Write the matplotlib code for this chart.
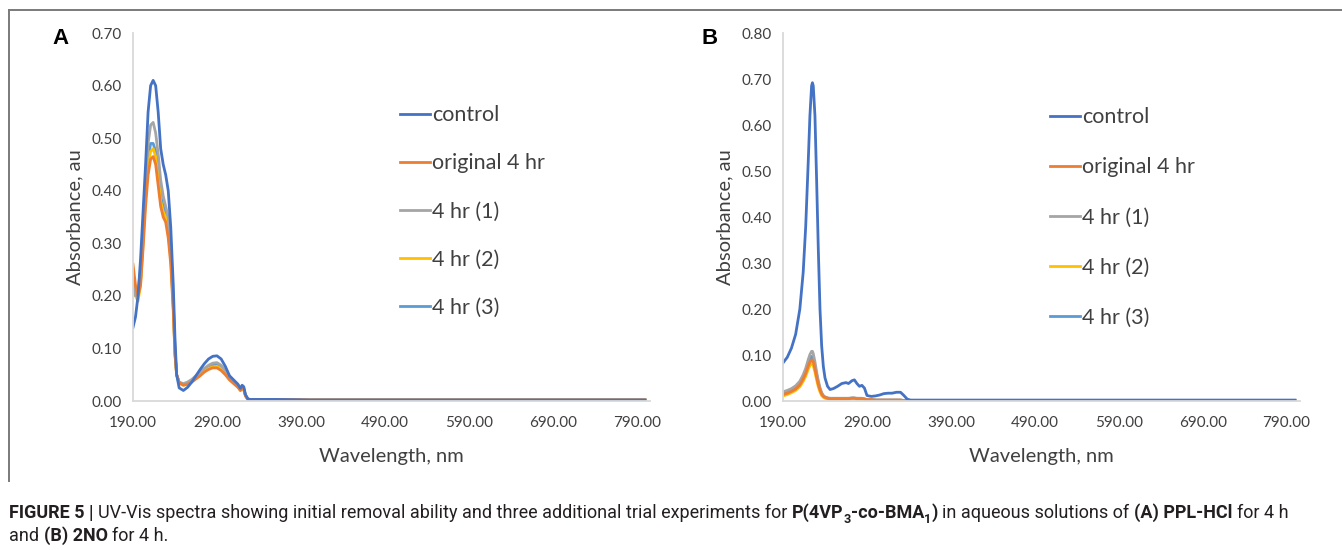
import matplotlib.pyplot as plt
from matplotlib.lines import Line2D

# ---- panel A data (wavelength, nm / absorbance, au) ----
wl_a = [190, 193, 196, 199, 202, 205, 208, 211, 214, 217, 220, 223, 226, 229, 232, 235, 238, 240,
        242, 245, 250, 255, 260, 265, 270, 275, 280, 285, 290, 295, 300, 305, 310, 315, 318, 320,
        322, 324, 327, 330, 340, 360, 400, 500, 600, 700, 800]
a_control = [0.14, 0.16, 0.20, 0.27, 0.36, 0.45, 0.55, 0.60, 0.61, 0.60, 0.55, 0.48, 0.45, 0.43, 0.40,
             0.33, 0.22, 0.12, 0.05, 0.025, 0.020, 0.026, 0.036, 0.048, 0.060, 0.071, 0.080, 0.085,
             0.086, 0.080, 0.066, 0.048, 0.040, 0.032, 0.024, 0.030, 0.027, 0.012, 0.004, 0.003,
             0.003, 0.003, 0.002, 0.002, 0.002, 0.002, 0.002]
a_orig = [0.26, 0.22, 0.20, 0.22, 0.29, 0.37, 0.43, 0.46, 0.465, 0.45, 0.41, 0.37, 0.35, 0.34, 0.31,
          0.26, 0.17, 0.09, 0.05, 0.035, 0.030, 0.032, 0.036, 0.042, 0.048, 0.055, 0.060, 0.063,
          0.063, 0.058, 0.050, 0.040, 0.033, 0.026, 0.020, 0.024, 0.022, 0.010, 0.003, 0.003,
          0.003, 0.003, 0.002, 0.002, 0.002, 0.002, 0.002]
a_run1 = [0.22, 0.20, 0.21, 0.25, 0.33, 0.42, 0.49, 0.525, 0.53, 0.51, 0.47, 0.42, 0.39, 0.37, 0.35,
          0.29, 0.19, 0.10, 0.05, 0.036, 0.033, 0.036, 0.041, 0.048, 0.055, 0.062, 0.068, 0.072,
          0.073, 0.068, 0.058, 0.047, 0.038, 0.030, 0.022, 0.026, 0.024, 0.011, 0.003, 0.003,
          0.003, 0.003, 0.002, 0.002, 0.002, 0.002, 0.002]
a_run2 = [0.22, 0.20, 0.19, 0.22, 0.30, 0.39, 0.45, 0.475, 0.48, 0.465, 0.43, 0.38, 0.36, 0.35, 0.32,
          0.27, 0.18, 0.09, 0.05, 0.034, 0.030, 0.032, 0.037, 0.043, 0.050, 0.057, 0.062, 0.065,
          0.066, 0.061, 0.052, 0.042, 0.034, 0.027, 0.020, 0.024, 0.022, 0.010, 0.003, 0.003,
          0.003, 0.003, 0.002, 0.002, 0.002, 0.002, 0.002]
a_run3 = [0.24, 0.21, 0.20, 0.23, 0.31, 0.40, 0.46, 0.49, 0.49, 0.475, 0.44, 0.39, 0.37, 0.36, 0.33,
          0.28, 0.18, 0.09, 0.05, 0.035, 0.031, 0.034, 0.039, 0.045, 0.052, 0.059, 0.064, 0.068,
          0.069, 0.064, 0.054, 0.044, 0.036, 0.028, 0.021, 0.025, 0.023, 0.010, 0.002, 0.002,
          0.002, 0.002, 0.001, 0.001, 0.001, 0.001, 0.001]

# ---- panel B data ----
wl_b = [190, 195, 200, 205, 210, 214, 217, 220, 222, 224, 225, 226, 228, 230, 232, 234, 236, 238,
        240, 243, 246, 250, 255, 260, 265, 268, 272, 275, 278, 281, 284, 287, 290, 295, 300, 305,
        310, 315, 320, 325, 330, 334, 338, 342, 400, 500, 600, 700, 800]
b_control = [0.083, 0.095, 0.115, 0.145, 0.20, 0.28, 0.38, 0.52, 0.62, 0.685, 0.692, 0.685, 0.62,
             0.48, 0.33, 0.20, 0.12, 0.075, 0.050, 0.032, 0.025, 0.027, 0.032, 0.038, 0.040, 0.038,
             0.044, 0.046, 0.038, 0.032, 0.034, 0.028, 0.012, 0.010, 0.011, 0.013, 0.016, 0.017,
             0.017, 0.019, 0.019, 0.012, 0.004, 0.002, 0.002, 0.002, 0.002, 0.002, 0.002]
b_orig = [0.014, 0.017, 0.021, 0.026, 0.035, 0.048, 0.060, 0.076, 0.085, 0.090, 0.089, 0.085, 0.070,
          0.052, 0.036, 0.024, 0.015, 0.010, 0.008, 0.006, 0.005, 0.005, 0.005, 0.005, 0.005, 0.005,
          0.006, 0.006, 0.005, 0.005, 0.005, 0.004, 0.003, 0.003, 0.002, 0.002, 0.002, 0.002,
          0.002, 0.002, 0.002, 0.001, 0.001, 0.001, 0.001, 0.001, 0.001, 0.001, 0.001]
b_run1 = [0.020, 0.023, 0.027, 0.033, 0.043, 0.057, 0.071, 0.090, 0.101, 0.108, 0.108, 0.103, 0.085,
          0.063, 0.044, 0.029, 0.018, 0.012, 0.009, 0.007, 0.006, 0.006, 0.006, 0.006, 0.006, 0.006,
          0.007, 0.007, 0.006, 0.006, 0.006, 0.005, 0.003, 0.003, 0.002, 0.002, 0.002, 0.002,
          0.002, 0.002, 0.002, 0.001, 0.001, 0.001, 0.001, 0.001, 0.001, 0.001, 0.001]
b_run2 = [0.011, 0.014, 0.018, 0.023, 0.031, 0.043, 0.054, 0.069, 0.077, 0.082, 0.081, 0.077, 0.063,
          0.046, 0.031, 0.020, 0.012, 0.008, 0.006, 0.004, 0.004, 0.004, 0.004, 0.004, 0.004, 0.004,
          0.005, 0.005, 0.004, 0.004, 0.004, 0.003, 0.002, 0.002, 0.001, 0.001, 0.001, 0.001,
          0.001, 0.001, 0.001, 0.001, 0.001, 0.001, 0.001, 0.001, 0.001, 0.001, 0.001]
b_run3 = [0.016, 0.019, 0.023, 0.029, 0.039, 0.052, 0.065, 0.083, 0.092, 0.097, 0.096, 0.092, 0.076,
          0.057, 0.040, 0.026, 0.016, 0.011, 0.008, 0.006, 0.005, 0.005, 0.005, 0.005, 0.005, 0.005,
          0.006, 0.006, 0.005, 0.005, 0.005, 0.004, 0.003, 0.003, 0.002, 0.002, 0.002, 0.002,
          0.002, 0.002, 0.002, 0.001, 0.001, 0.001, 0.001, 0.001, 0.001, 0.001, 0.001]

labels = ['control', 'original 4 hr', '4 hr (1)', '4 hr (2)', '4 hr (3)']
colors = ['#4472C4', '#ED7D31', '#A5A5A5', '#FFC000', '#5B9BD5']
x_ticks = [190, 290, 390, 490, 590, 690, 790]

plt.rcParams['font.family'] = ['Lato', 'DejaVu Sans']
text_col = '#404040'

fig = plt.figure(figsize=(13.42, 5.5), dpi=100)

panels = [
    ('A', wl_a, [a_control, a_orig, a_run1, a_run2, a_run3], 0.70, [0.0991, 0.2709, 0.3853, 0.669],
     (0.045, 0.93), (0.298, 0.809), 1.31),
    ('B', wl_b, [b_control, b_orig, b_run1, b_run2, b_run3], 0.80, [0.5835, 0.2709, 0.3852, 0.669],
     (0.529, 0.93), (0.7824, 0.805), 1.40),
]

for name, wl, series, ymax, pos, lab_xy, leg_xy, spacing in panels:
    ax = fig.add_axes(pos)
    # draw in reverse so control sits on top like the original
    for vals, lab, col in reversed(list(zip(series, labels, colors))):
        ax.plot(wl, vals, color=col, lw=2.0, label=lab)
    ax.set_xlim(190, 806)
    ax.set_ylim(0, ymax)
    ax.set_xticks(x_ticks)
    ax.set_xticklabels(['%.2f' % v for v in x_ticks])
    yt = [i / 10 for i in range(int(round(ymax * 10)) + 1)]
    ax.set_yticks(yt)
    ax.set_yticklabels(['%.2f' % v for v in yt])
    ax.tick_params(length=0, labelsize=11, colors=text_col)
    ax.tick_params(axis='x', pad=11)
    ax.tick_params(axis='y', pad=8)
    for s in ['top', 'right']:
        ax.spines[s].set_visible(False)
    for s in ['left', 'bottom']:
        ax.spines[s].set_color('#D9D9D9')
        ax.spines[s].set_linewidth(1.3)
    ax.set_xlabel('Wavelength, nm', fontsize=14.5, color=text_col, labelpad=13)
    ax.set_ylabel('Absorbance, au', fontsize=14.5, color=text_col, labelpad=6)

    handles = [Line2D([], [], color=c, lw=2.0) for c in colors]
    ax.legend(handles, labels, loc='upper left', bbox_to_anchor=leg_xy, bbox_transform=fig.transFigure,
              frameon=False, fontsize=15.5, labelspacing=spacing, handlelength=1.4,
              handletextpad=0.1, borderpad=0, borderaxespad=0, labelcolor=text_col)

    fig.text(lab_xy[0], lab_xy[1], name, fontsize=16, fontweight='bold',
             family=['Liberation Sans', 'DejaVu Sans'], ha='center', va='center', color='black')

# figure frame (top and left rules)
fig.add_artist(Line2D([0.0067, 1.0], [0.9818, 0.9818], transform=fig.transFigure, color='#7a7a7a', lw=1.4))
fig.add_artist(Line2D([0.0067, 0.0067], [0.9818, 0.125], transform=fig.transFigure, color='#7a7a7a', lw=1.4))

# caption, built piece by piece so bold and regular runs can sit on one line
cap_font = ['Liberation Sans Narrow', 'Roboto', 'DejaVu Sans']
line1 = [('FIGURE 5 |', 'bold', False, False),
         ('UV-Vis spectra showing initial removal ability and three additional trial experiments for', 'normal', True, False),
         ('P(4VP', 'bold', True, False), ('3', 'bold', False, True), ('-co-BMA', 'bold', False, False),
         ('1', 'bold', False, True), (')', 'bold', False, False),
         ('in aqueous solutions of', 'normal', True, False), ('(A) PPL-HCl', 'bold', True, False),
         ('for 4 h', 'normal', True, False)]
line2 = [('and', 'normal', False, False), ('(B) 2NO', 'bold', True, False), ('for 4 h.', 'normal', True, False)]

renderer = fig.canvas.get_renderer()
W, H = fig.bbox.width, fig.bbox.height


def width_of(s, size, weight):
    t = fig.text(0, 0, s, fontsize=size, fontweight=weight, family=cap_font)
    w = t.get_window_extent(renderer).width
    t.remove()
    return w


def lay_line(pieces, y_px, size, draw=True):
    space = width_of('x x', size, 'normal') - width_of('xx', size, 'normal')
    x = 9.0
    for txt, weight, gap, sub in pieces:
        if gap:
            x += space
        fs = size * 0.7 if sub else size
        yy = y_px + (size * 0.35 if sub else 0)
        if draw:
            t = fig.text(x / W, 1 - yy / H, txt, fontsize=fs, fontweight=weight, family=cap_font,
                         ha='left', va='baseline', color='#231f20')
            x = t.get_window_extent(renderer).x1
        else:
            x += width_of(txt, fs, weight)
    return x


base = 10.5
end = lay_line(line1, 518, base, draw=False)
size = base * (1290 - 9) / (end - 9)
lay_line(line1, 518, size)
lay_line(line2, 541, size)

fig.savefig('out.png', dpi=100)
